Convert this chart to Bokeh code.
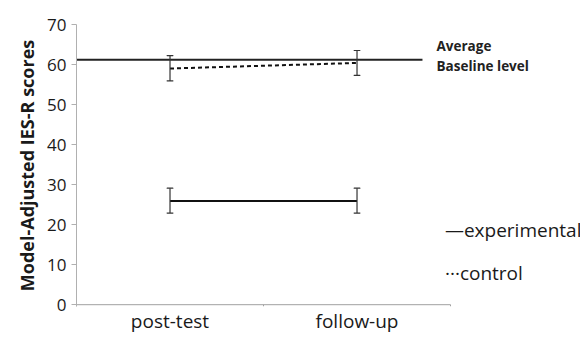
from bokeh.plotting import figure
from bokeh.models import Range1d, FixedTicker
from bokeh.core.properties import value
from bokeh.embed import file_html
from bokeh.resources import INLINE

# ---- data ----
categories = ["post-test", "follow-up"]
cat_x = [1, 2]
experimental = [25.9, 25.9]
experimental_lo = [22.9, 22.9]
experimental_hi = [29.1, 29.1]
control = [59.0, 60.4]
control_lo = [55.9, 57.3]
control_hi = [62.2, 63.5]
baseline = 61.2
y_ticks = [0, 10, 20, 30, 40, 50, 60, 70]

FONT = "Open Sans"
TXT = "#1a1a1a"

p = figure(width=580, height=336, output_backend="svg", toolbar_location=None,
           x_range=Range1d(0.5, 3.195), y_range=Range1d(-0.45, 70),
           min_border_left=76, min_border_right=0, min_border_top=24, min_border_bottom=28)
p.outline_line_color = None
p.xgrid.grid_line_color = None
p.ygrid.grid_line_color = None
p.background_fill_color = "white"
p.border_fill_color = "white"

# y axis
p.yaxis.ticker = FixedTicker(ticks=y_ticks)
p.yaxis.axis_line_color = "#b0b0b0"
p.yaxis.major_tick_line_color = "#b0b0b0"
p.yaxis.major_tick_in = 0
p.yaxis.major_tick_out = 5
p.yaxis.minor_tick_line_color = None
p.yaxis.major_label_text_font = FONT
p.yaxis.major_label_text_font_size = "17px"
p.yaxis.major_label_text_color = TXT
p.yaxis.major_label_standoff = 5
p.yaxis.axis_label = "Model-Adjusted IES-R scores"
p.yaxis.axis_label_text_font = FONT
p.yaxis.axis_label_text_font_size = "18px"
p.yaxis.axis_label_text_font_style = "bold"
p.yaxis.axis_label_text_color = TXT
p.yaxis.axis_label_standoff = 5

# x axis (labels only; line drawn manually)
p.xaxis.ticker = FixedTicker(ticks=cat_x)
p.xaxis.major_label_overrides = {x: c for x, c in zip(cat_x, categories)}
p.xaxis.axis_line_color = None
p.xaxis.major_tick_line_color = None
p.xaxis.major_tick_in = 0
p.xaxis.major_tick_out = 0
p.xaxis.minor_tick_line_color = None
p.xaxis.minor_tick_in = 0
p.xaxis.minor_tick_out = 0
p.xaxis.major_label_text_font = FONT
p.xaxis.major_label_text_font_size = "19px"
p.xaxis.major_label_text_color = TXT
p.xaxis.major_label_standoff = 1

# manual x axis line and tick marks
p.segment(x0=[0.5], y0=[0], x1=[2.5], y1=[0], line_color="#a0a0a0", line_width=1)
p.segment(x0=[0.5, 1.5, 2.5], y0=[0, 0, 0], x1=[0.5, 1.5, 2.5], y1=[-0.45, -0.45, -0.45],
          line_color="#a0a0a0", line_width=1)

# baseline
p.segment(x0=[0.5], y0=[baseline], x1=[2.35], y1=[baseline], line_color="#222222", line_width=2)

# experimental
p.line(cat_x, experimental, line_color="#111111", line_width=2)
p.segment(x0=cat_x, y0=experimental_lo, x1=cat_x, y1=experimental_hi, line_color="#333333", line_width=1.2)
p.rect(x=cat_x, y=experimental_lo, width=6, height=0.01, width_units="screen", height_units="screen",
       line_color="#333333", line_width=1.2, fill_color=None)
p.rect(x=cat_x, y=experimental_hi, width=6, height=0.01, width_units="screen", height_units="screen",
       line_color="#333333", line_width=1.2, fill_color=None)

# control
p.line(cat_x, control, line_color="#111111", line_width=2, line_dash="4 3")
p.segment(x0=cat_x, y0=control_lo, x1=cat_x, y1=control_hi, line_color="#333333", line_width=1.2)
p.rect(x=cat_x, y=control_lo, width=6, height=0.01, width_units="screen", height_units="screen",
       line_color="#333333", line_width=1.2, fill_color=None)
p.rect(x=cat_x, y=control_hi, width=6, height=0.01, width_units="screen", height_units="screen",
       line_color="#333333", line_width=1.2, fill_color=None)

# annotation texts
p.text(x=[2.425, 2.425], y=[64.7, 59.7], text=["Average", "Baseline level"],
       text_font=value(FONT), text_font_size="13.5px", text_font_style="bold",
       text_color="#222222", text_baseline="middle", text_align="left")
p.text(x=[2.47, 2.47], y=[18.6, 8.0], text=["\u2014experimental", "\u00b7\u00b7\u00b7control"],
       text_font=value(FONT), text_font_size="19px",
       text_color=TXT, text_baseline="middle", text_align="left")

open("out.html", "w").write(file_html(p, INLINE))
